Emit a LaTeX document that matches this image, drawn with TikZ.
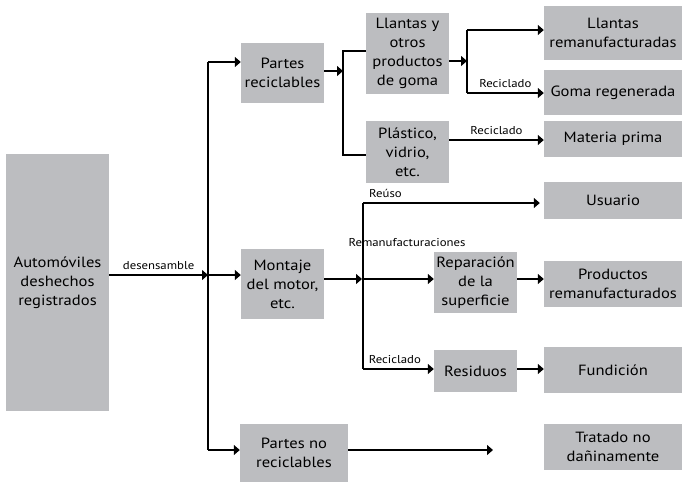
\documentclass[tikz,border=0pt]{standalone}
\usepackage{fontspec}
\setmainfont{PT Sans}[FakeStretch=1.12]
\usetikzlibrary{arrows.meta}
\definecolor{boxgray}{RGB}{188,189,192}
\begin{document}
\begin{tikzpicture}[x=1pt,y=-1pt,
  box/.style={fill=boxgray, draw=none, inner sep=1pt, align=center, font=\fontsize{14.8}{19}\selectfont},
  lbl/.style={font=\fontsize{11.4}{13}\selectfont, inner sep=0pt},
  ln/.style={line width=1.2pt},
  arr/.style={line width=1.2pt, -{Triangle[length=6pt,width=10pt]}}]
\useasboundingbox (0,0) rectangle (682,482);
% boxes
\node[box, minimum width=103pt, minimum height=257pt] (auto) at (57.5,282.5) {Automóviles\\deshechos\\registrados};
\node[box, minimum width=83pt, minimum height=60pt] (prec) at (282.5,73) {Partes\\reciclables};
\node[box, minimum width=83pt, minimum height=70pt] (mont) at (282.5,284) {Montaje\\del motor,\\etc.};
\node[box, minimum width=108pt, minimum height=58pt] (pnorec) at (294,453) {Partes no\\reciclables};
\node[box, minimum width=83pt, minimum height=81pt] (llan) at (407.5,53.5) {Llantas y\\otros\\productos\\de goma};
\node[box, minimum width=83pt, minimum height=62pt] (plast) at (407.5,152) {Plástico,\\vidrio,\\etc.};
\node[box, minimum width=138pt, minimum height=54pt] (llrem) at (613,33) {Llantas\\remanufacturadas};
\node[box, minimum width=138pt, minimum height=45pt] (goma) at (613,92.5) {Goma regenerada};
\node[box, minimum width=138pt, minimum height=36pt] (mat) at (613,139) {Materia prima};
\node[box, minimum width=138pt, minimum height=37pt] (usu) at (613,200.5) {Usuario};
\node[box, minimum width=138pt, minimum height=46pt] (prod) at (613,284) {Productos\\remanufacturados};
\node[box, minimum width=138pt, minimum height=46pt] (fund) at (613,370) {Fundición};
\node[box, minimum width=138pt, minimum height=46pt] (trat) at (613,447) {Tratado no\\dañinamente};
\node[box, minimum width=83pt, minimum height=61pt] (rep) at (475.5,282.5) {Reparación\\de la\\superficie};
\node[box, minimum width=83pt, minimum height=42pt] (res) at (475.5,371) {Residuos};
% trunk
\coordinate (t0) at (208,62);
\coordinate (t1) at (208,275);
\coordinate (t2) at (208,450);
\draw[ln] (t0) -- (t2);
\draw[arr] (auto.east |- t1) -- node[lbl, above=5pt] {desensamble} (t1);
\draw[arr] (t0) -- (prec.west |- t0);
\draw[arr] (t1) -- (mont.west |- t1);
\draw[arr] (t2) -- (pnorec.west |- t2);
% recyclable branch
\coordinate (b1) at (343,71);
\draw[arr] (prec.east |- b1) -- (b1);
\draw[ln] (llan.west |- 0,51) -| (343,155) -- (plast.west |- 0,155);
\coordinate (b2) at (467,61);
\draw[arr] (llan.east |- b2) -- (b2);
\draw[ln] (467,30) -- (467,93);
\draw[arr] (467,30) -- (llrem.west |- 0,30);
\draw[arr] (467,93) -- node[lbl, above=5pt, pos=0.5] {Reciclado} (goma.west |- 0,93);
\draw[arr] (plast.east |- 0,140) -- node[lbl, above=5pt, pos=0.5] {Reciclado} (mat.west |- 0,140);
% engine branch
\coordinate (b3) at (362,279);
\draw[arr] (mont.east |- b3) -- (b3);
\draw[ln] (363,203) -- (363,369);
\draw[arr, shorten >=4pt] (363,203) -- (usu.west |- 0,203);
\node[lbl, anchor=south west] (reuso) at (369,198) {Reúso};
\node[lbl] (reman) at (407,243) {Remanufacturaciones};
\draw[arr] (363,279) -- (rep.west |- 0,279);
\draw[arr] (rep.east |- 0,279) -- (prod.west |- 0,279);
\draw[arr] (363,369) -- node[lbl, above=5pt, pos=0.45] {Reciclado} (res.west |- 0,369);
\draw[arr] (res.east |- 0,369) -- (fund.west |- 0,369);
% non recyclable
\coordinate (e1) at (493,450);
\draw[arr] (pnorec.east |- e1) -- (e1);
\end{tikzpicture}
\end{document}
